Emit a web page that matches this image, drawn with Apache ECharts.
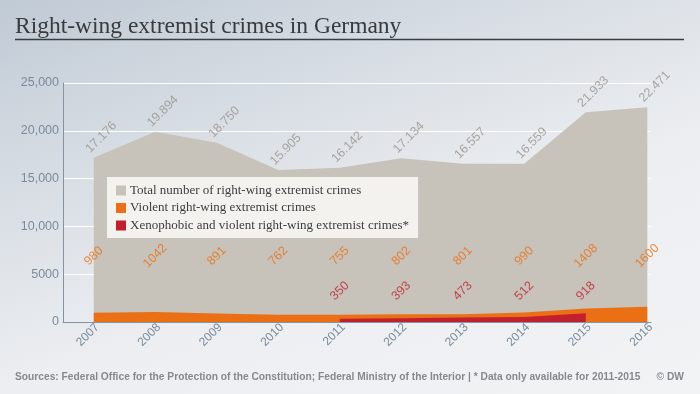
<!DOCTYPE html>
<html><head><meta charset="utf-8">
<script src="https://cdn.jsdelivr.net/npm/echarts@6/dist/echarts.min.js"></script>
<style>
html,body{margin:0;padding:0;}
#c{width:700px;height:394px;background:linear-gradient(160deg,#c0cad5 0%,#dbe0e6 35%,#eceef1 60%,#f2f3f5 100%);}
</style>
</head><body><div id="c"></div>
<script>
const years = [2007, 2008, 2009, 2010, 2011, 2012, 2013, 2014, 2015, 2016];
const totalCrimes = [17176, 19894, 18750, 15905, 16142, 17134, 16557, 16559, 21933, 22471];
const violentCrimes = [980, 1042, 891, 762, 755, 802, 801, 990, 1408, 1600];
const xenoYears = [2011, 2012, 2013, 2014, 2015];
const xenoCrimes = [350, 393, 473, 512, 918];
const yTicks = [0, 5000, 10000, 15000, 20000, 25000];
const seriesNames = ['Total number of right-wing extremist crimes', 'Violent right-wing extremist crimes', 'Xenophobic and violent right-wing extremist crimes*'];
const sourceText = 'Sources: Federal Office for the Protection of the Constitution; Federal Ministry of the Interior | * Data only available for 2011-2015';
const creditText = '© DW';

// label placement levels (style, not data)
const ORANGE_LABEL_LEVEL = 6900;
const RED_LABEL_LEVEL = 3250;

const C_GRAY = '#c7c2ba', C_ORANGE = '#eb7015', C_RED = '#c3202f';
const fmtDe = v => String(v).replace(/\B(?=(\d{3})+(?!\d))/g, '.');
const fmtY = v => v >= 10000 ? String(v).replace(/\B(?=(\d{3})+(?!\d))/g, ',') : String(v);

const pairs = (xs, ys) => xs.map((x, i) => [x, ys[i]]);
const sans = 'Liberation Sans, Arial, sans-serif';
const serif = 'Liberation Serif, Georgia, serif';

const chart = echarts.init(document.getElementById('c'), null, {renderer: 'canvas'});
chart.setOption({
  animation: false,
  backgroundColor: 'transparent',
  title: [
    {text: 'Right-wing extremist crimes in Germany', left: 10, top: 10,
     textStyle: {fontFamily: serif, fontSize: 23.5, fontWeight: 'normal', color: '#383a3d'}}
  ],
  graphic: [
    {type: 'line', shape: {x1: 15, y1: 39.5, x2: 684, y2: 39.5}, style: {stroke: '#3a3c3f', lineWidth: 1.5}, silent: true},
    {type: 'text', x: 15, y: 377, scaleX: 0.93, silent: true,
     style: {text: sourceText, font: 'bold 11px Liberation Sans, Arial, sans-serif', fill: '#86898d', textVerticalAlign: 'middle', textAlign: 'left'}},
    {type: 'text', x: 684, y: 377, scaleX: 0.93, silent: true,
     style: {text: creditText, font: 'bold 11px Liberation Sans, Arial, sans-serif', fill: '#86898d', textVerticalAlign: 'middle', textAlign: 'right'}}
  ],
  legend: {
    data: seriesNames,
    orient: 'vertical', left: 107, top: 177,
    backgroundColor: '#f3f2ef', padding: [7, 9, 6, 9],
    itemWidth: 10, itemHeight: 10, itemGap: 4.5, icon: 'rect',
    textStyle: {fontFamily: serif, fontSize: 13, color: '#3d3d3d', padding: [0, 0, 0, -1]}
  },
  grid: {left: 63, right: 49, top: 83, bottom: 72},
  xAxis: {
    type: 'value', min: 2006.5, max: 2016.06, interval: 0.5,
    axisLine: {show: true, lineStyle: {color: '#8493a1', width: 1}},
    axisTick: {show: false}, splitLine: {show: false},
    axisLabel: {rotate: 45, margin: 7, color: '#7b8b9b', fontFamily: sans, fontSize: 12,
      showMinLabel: false, showMaxLabel: false, padding: [0, -5, 0, 0],
      formatter: v => Number.isInteger(v) ? String(v) : ''}
  },
  yAxis: {
    type: 'value', min: yTicks[0], max: yTicks[yTicks.length - 1], interval: yTicks[1] - yTicks[0],
    axisLine: {show: true, lineStyle: {color: '#8493a1', width: 1}},
    axisTick: {show: false},
    splitLine: {show: true, lineStyle: {color: '#ffffff', width: 1}},
    axisLabel: {margin: 4, color: '#7b8b9b', fontFamily: sans, fontSize: 12.5, formatter: fmtY}
  },
  series: [
    {name: seriesNames[0], type: 'line', data: pairs(years, totalCrimes), symbol: 'none',
     lineStyle: {width: 0}, areaStyle: {color: C_GRAY, opacity: 1}, itemStyle: {color: C_GRAY}, z: 1},
    {name: seriesNames[1], type: 'line', data: pairs(years, violentCrimes), symbol: 'none',
     lineStyle: {width: 0}, areaStyle: {color: C_ORANGE, opacity: 1}, itemStyle: {color: C_ORANGE}, z: 2},
    {name: seriesNames[2], type: 'line', data: pairs(xenoYears, xenoCrimes), symbol: 'none',
     lineStyle: {width: 0}, areaStyle: {color: C_RED, opacity: 1}, itemStyle: {color: C_RED}, z: 3},
    {type: 'scatter', data: pairs(years, totalCrimes), symbolSize: 0, z: 5, silent: true,
     itemStyle: {color: 'rgba(0,0,0,0)'},
     label: {show: true, position: [-6, -7], rotate: 45, align: 'left', verticalAlign: 'middle',
       fontFamily: sans, fontSize: 12.5, color: '#9a948b',
       formatter: p => fmtDe(p.value[1])}},
    {type: 'scatter', data: years.map((y, i) => ({value: [y, ORANGE_LABEL_LEVEL], raw: violentCrimes[i]})),
     symbolSize: 0, z: 5, silent: true, itemStyle: {color: 'rgba(0,0,0,0)'},
     label: {show: true, position: 'inside', rotate: 45, align: 'center', verticalAlign: 'middle',
       fontFamily: sans, fontSize: 12.5, color: C_ORANGE,
       formatter: p => String(p.data.raw)}},
    {type: 'scatter', data: xenoYears.map((y, i) => ({value: [y, RED_LABEL_LEVEL], raw: xenoCrimes[i]})),
     symbolSize: 0, z: 5, silent: true, itemStyle: {color: 'rgba(0,0,0,0)'},
     label: {show: true, position: 'inside', rotate: 45, align: 'center', verticalAlign: 'middle',
       fontFamily: sans, fontSize: 12.5, color: C_RED,
       formatter: p => String(p.data.raw)}}
  ]
});
</script>
</body></html>
